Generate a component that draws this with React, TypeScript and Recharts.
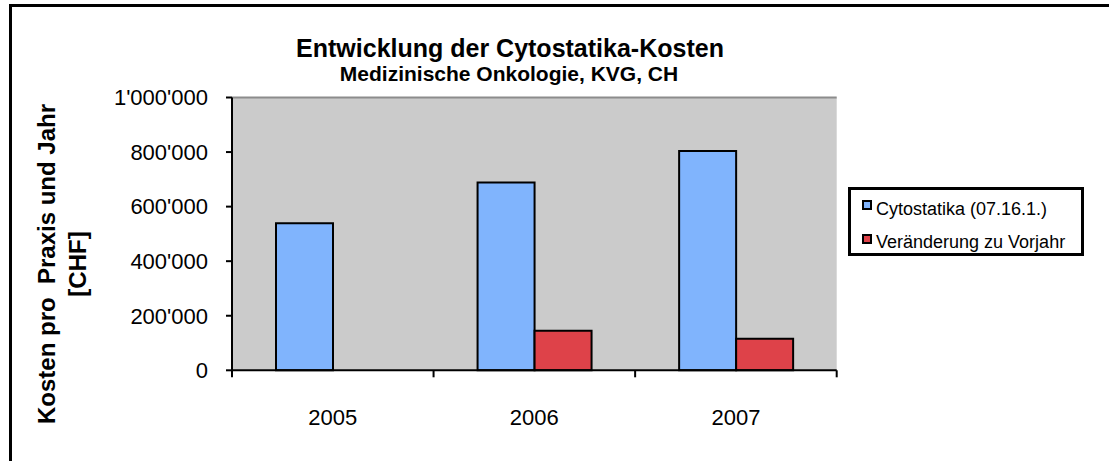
import React from "react";
import {
  Bar,
  BarChart,
  CartesianGrid,
  Label,
  ReferenceLine,
  XAxis,
  YAxis,
} from "recharts";

const years = ["2005", "2006", "2007"];
const cytostatika = [539000, 688000, 804000];
const veraenderung = [null, 145000, 116000];
const yTicks = [0, 200000, 400000, 600000, 800000, 1000000];
const seriesNames = ["Cytostatika (07.16.1.)", "Veränderung zu Vorjahr"];
const seriesColors = ["#80b4fd", "#de4249"];

const data = years.map((year, i) => ({
  year,
  cyto: cytostatika[i],
  diff: veraenderung[i],
}));

const FONT = "'Liberation Sans', Arial, sans-serif";

const fmt = (v: number) => String(v).replace(/\B(?=(\d{3})+(?!\d))/g, "'");

function YearTick(props: any) {
  const { x, y, payload, index, width } = props;
  const half = width / years.length / 2;
  return (
    <g>
      <line x1={x - half} x2={x - half} y1={y} y2={y + 7} stroke="#000" strokeWidth={2} />
      {index === years.length - 1 && (
        <line x1={x + half} x2={x + half} y1={y} y2={y + 7} stroke="#000" strokeWidth={2} />
      )}
      <text x={x} y={y + 54.7} textAnchor="middle" fontSize={22} fontFamily={FONT} fill="#000">
        {payload.value}
      </text>
    </g>
  );
}

function YLabel() {
  return (
    <g fontFamily={FONT} fontWeight="bold" fontSize={24} fill="#000">
      <text x={0} y={0} transform="translate(54.7,264) rotate(-90)" textAnchor="middle" style={{ whiteSpace: "pre" }}>
        {"Kosten pro  Praxis und Jahr"}
      </text>
      <text x={0} y={0} transform="translate(85.5,264) rotate(-90)" textAnchor="middle">
        [CHF]
      </text>
    </g>
  );
}

export default function App() {
  return (
    <div
      style={{
        position: "fixed",
        left: 0,
        top: 0,
        width: 1109,
        height: 461,
        background: "#fff",
        overflow: "hidden",
        fontFamily: FONT,
      }}
    >
      <div
        style={{
          position: "absolute",
          left: 9,
          top: 4,
          width: 1100,
          height: 457,
          borderTop: "3px solid #000",
          borderLeft: "3px solid #000",
          boxSizing: "border-box",
        }}
      />
      <div
        style={{
          position: "absolute",
          left: 0,
          width: 1020,
          top: 35.5,
          textAlign: "center",
          fontSize: 25,
          lineHeight: "25px",
          fontWeight: "bold",
          whiteSpace: "nowrap",
        }}
      >
        Entwicklung der Cytostatika-Kosten
      </div>
      <div
        style={{
          position: "absolute",
          left: 0,
          width: 1018,
          top: 62.9,
          textAlign: "center",
          fontSize: 21,
          lineHeight: "21px",
          fontWeight: "bold",
          whiteSpace: "nowrap",
        }}
      >
        Medizinische Onkologie, KVG, CH
      </div>
      <div style={{ position: "absolute", left: 0, top: 0 }}>
        <BarChart
          width={1109}
          height={461}
          data={data}
          margin={{ top: 97.5, right: 272.3, bottom: 50.7, left: 0 }}
          barSize={57}
          barGap={0}
        >
          <CartesianGrid
            fill="#cbcbcb"
            stroke="#000"
            strokeWidth={2}
            vertical={false}
            horizontalValues={[200000, 400000, 600000, 800000]}
          />
          <XAxis
            dataKey="year"
            height={40}
            tickSize={0}
            tickMargin={0}
            tickLine={false}
            axisLine={{ stroke: "#000", strokeWidth: 2 }}
            tick={<YearTick />}
            interval={0}
          />
          <YAxis
            yAxisId="left"
            width={232}
            domain={[0, 1000000]}
            ticks={yTicks}
            tickFormatter={fmt}
            tickSize={6}
            tickMargin={18}
            tickLine={{ stroke: "#000", strokeWidth: 2 }}
            axisLine={{ stroke: "#000", strokeWidth: 2 }}
            tick={{ fill: "#000", fontSize: 22, fontFamily: FONT }}
            interval={0}
          >
            <Label content={<YLabel />} />
          </YAxis>
          <YAxis
            yAxisId="right"
            orientation="right"
            width={0}
            domain={[0, 1000000]}
            tick={false}
            tickLine={false}
            axisLine={{ stroke: "#a0a0a0", strokeWidth: 2 }}
          />
          <ReferenceLine yAxisId="left" y={1000000} stroke="#8c8c8c" strokeWidth={2} />
          <Bar
            yAxisId="left"
            dataKey="cyto"
            fill={seriesColors[0]}
            stroke="#000"
            strokeWidth={2}
            isAnimationActive={false}
          />
          <Bar
            yAxisId="left"
            dataKey="diff"
            fill={seriesColors[1]}
            stroke="#000"
            strokeWidth={2}
            isAnimationActive={false}
          />
        </BarChart>
      </div>
      <div
        style={{
          position: "absolute",
          left: 848,
          top: 187,
          width: 236,
          height: 69,
          border: "3px solid #000",
          boxSizing: "border-box",
          background: "#fff",
        }}
      >
        {seriesNames.map((name, i) => (
          <React.Fragment key={name}>
            <div
              style={{
                position: "absolute",
                left: 11,
                top: 10 + i * 34,
                width: 10,
                height: 10,
                background: seriesColors[i],
                border: "2px solid #000",
                boxSizing: "border-box",
              }}
            />
            <div
              style={{
                position: "absolute",
                left: 25,
                top: 9.8 + i * 33.3,
                fontSize: 18,
                lineHeight: "18px",
                whiteSpace: "nowrap",
                color: "#000",
              }}
            >
              {name}
            </div>
          </React.Fragment>
        ))}
      </div>
    </div>
  );
}
